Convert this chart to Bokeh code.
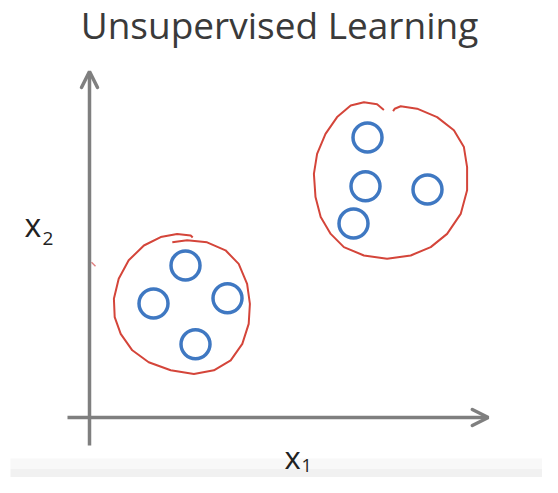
from bokeh.plotting import figure
from bokeh.models import Range1d, Arrow, OpenHead, Label
from bokeh.embed import file_html
from bokeh.resources import INLINE

# ---- data (x1, x2 units) ----
cluster_a_x1 = [2.40, 1.60, 3.45, 2.65]
cluster_a_x2 = [3.80, 2.85, 2.98, 1.83]
cluster_b_x1 = [6.95, 6.90, 8.45, 6.60]
cluster_b_x2 = [7.00, 5.78, 5.70, 4.85]

loop_a_x1 = [2.58, 2.53, 2.19, 1.78, 1.36, 0.98, 0.73, 0.61, 0.63, 0.78, 1.07, 1.48, 2.03,
             2.61, 3.11, 3.53, 3.82, 3.98, 4.01, 3.94, 3.73, 3.40, 2.94, 2.44, 2.07]
loop_a_x2 = [4.50, 4.55, 4.59, 4.51, 4.30, 3.93, 3.47, 2.97, 2.51, 2.09, 1.68, 1.38, 1.18,
             1.09, 1.18, 1.43, 1.84, 2.34, 2.84, 3.34, 3.84, 4.18, 4.38, 4.43, 4.38]
loop_b_x1 = [7.36, 7.19, 6.86, 6.53, 6.19, 5.90, 5.69, 5.61, 5.65, 5.78, 6.03, 6.36, 6.86,
             7.44, 8.03, 8.53, 8.94, 9.28, 9.44, 9.44, 9.36, 9.11, 8.69, 8.19, 7.78, 7.63, 7.59]
loop_b_x2 = [7.69, 7.83, 7.88, 7.80, 7.51, 7.09, 6.59, 6.09, 5.51, 5.01, 4.59, 4.26, 4.05,
             3.97, 4.05, 4.26, 4.59, 5.09, 5.68, 6.26, 6.76, 7.18, 7.51, 7.72, 7.78, 7.72, 7.66]
stray_x1 = [0.05, 0.15]
stray_x2 = [3.88, 3.78]

x_axis_span = [-0.55, 9.97]
y_axis_span = [-0.70, 8.65]

title_text = "Unsupervised Learning"
x_label, x_sub = "x", "1"
y_label, y_sub = "x", "2"

# ---- layout helpers (picture pixel -> data) ----
X0, Y0, S = 89.0, 417.0, 40.0
def hx(px):
    return (px - X0) / S
def vy(py):
    return (Y0 - py) / S

W, H = 542, 477
p = figure(width=W, height=H, output_backend="svg", toolbar_location=None,
           x_range=Range1d(hx(0), hx(W)), y_range=Range1d(vy(H), vy(0)),
           x_axis_type=None, y_axis_type=None, min_border=0)
p.grid.visible = False
p.outline_line_color = None
p.background_fill_color = "white"
p.border_fill_color = "white"

# bottom light band
p.quad(left=hx(10), right=hx(W), bottom=vy(H), top=vy(468), fill_color="#f1f1f1", line_color=None)
p.quad(left=hx(10), right=hx(W), bottom=vy(468), top=vy(458), fill_color="#f8f8f8", line_color=None)

axis_col = "#7f7f7f"
p.add_layout(Arrow(end=OpenHead(size=16, line_width=3.5, line_color=axis_col, line_cap="round"),
                   x_start=x_axis_span[0], y_start=0, x_end=x_axis_span[1], y_end=0,
                   line_width=3.5, line_color=axis_col))
p.add_layout(Arrow(end=OpenHead(size=16, line_width=3.5, line_color=axis_col, line_cap="round"),
                   x_start=0, y_start=y_axis_span[0], x_end=0, y_end=y_axis_span[1],
                   line_width=3.5, line_color=axis_col))

red = "#d4453a"
p.line(loop_a_x1, loop_a_x2, line_color=red, line_width=2, line_join="round")
p.line(loop_b_x1, loop_b_x2, line_color=red, line_width=2, line_join="round")
p.line(stray_x1, stray_x2, line_color="#e08080", line_width=1.5)

blue = "#3f78c2"
p.scatter(cluster_a_x1, cluster_a_x2, marker="circle", size=29, fill_color=None,
          line_color=blue, line_width=3.5)
p.scatter(cluster_b_x1, cluster_b_x2, marker="circle", size=29, fill_color=None,
          line_color=blue, line_width=3.5)

font = "Open Sans"
p.add_layout(Label(x=hx(279), y=vy(24), text=title_text, text_align="center",
                   text_baseline="alphabetic", text_font=font, text_font_size="37px",
                   text_color="#3a3a3a"))
p.add_layout(Label(x=hx(24), y=vy(224), text=y_label, text_baseline="alphabetic",
                   text_font=font, text_font_size="32px", text_color="#222222"))
p.add_layout(Label(x=hx(42), y=vy(238), text=y_sub, text_baseline="alphabetic",
                   text_font=font, text_font_size="19px", text_color="#222222"))
p.add_layout(Label(x=hx(284), y=vy(456), text=x_label, text_baseline="alphabetic",
                   text_font=font, text_font_size="31px", text_color="#222222"))
p.add_layout(Label(x=hx(301), y=vy(465), text=x_sub, text_baseline="alphabetic",
                   text_font=font, text_font_size="18px", text_color="#222222"))

open("out.html", "w").write(file_html(p, INLINE))
